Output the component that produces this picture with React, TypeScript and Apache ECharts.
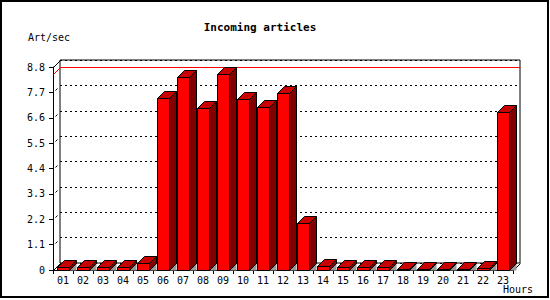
import React, { useEffect, useRef } from "react";
import * as echarts from "echarts";

const hours = ["01","02","03","04","05","06","07","08","09","10","11","12","13","14","15","16","17","18","19","20","21","22","23"];
const artPerSec = [0.12,0.14,0.13,0.13,0.29,7.46,8.37,7.02,8.5,7.41,7.05,7.67,2.05,0.17,0.13,0.13,0.13,0.06,0.06,0.06,0.06,0.07,6.87];
const yMin = 0;
const yMax = 8.8;
const yStep = 1.1;
const titleText = "Incoming articles";
const yName = "Art/sec";
const xName = "Hours";

const D = 7;
const BW = 12;
const MONO = "'DejaVu Sans Mono', 'Liberation Mono', monospace";

export default function App() {
  const ref = useRef<HTMLDivElement>(null);
  useEffect(() => {
    if (!ref.current) return;
    const chart = echarts.init(ref.current, null, { renderer: "svg" });
    const maxVal = Math.max(...artPerSec);
    const tickVals: number[] = [];
    for (let k = 1; k * yStep < yMax - 1e-9; k++) tickVals.push(+(k * yStep).toFixed(1));

    const option: any = {
      animation: false,
      backgroundColor: "#fff",
      grid: [
        { left: 53, top: 67, width: 460, height: 203, outerBoundsMode: "none", show: false },
        { left: 60, top: 60, width: 460, height: 203, outerBoundsMode: "none", show: true, backgroundColor: "#fff", borderColor: "#000", borderWidth: 1, z: -1 },
      ],
      xAxis: [
        {
          type: "category", gridIndex: 0, data: hours,
          axisLine: { lineStyle: { color: "#000", width: 1 } },
          axisTick: { show: true, length: 4, interval: 0, lineStyle: { color: "#000" } },
          axisLabel: { interval: 0, color: "#000", fontFamily: MONO, fontSize: 10, margin: 5 },
          splitLine: { show: false },
        },
        { type: "category", gridIndex: 1, data: hours, show: false },
      ],
      yAxis: [
        {
          type: "value", gridIndex: 0, min: yMin, max: yMax, interval: yStep,
          axisLine: { show: true, lineStyle: { color: "#000", width: 1 } },
          axisTick: { show: true, length: 4, lineStyle: { color: "#000" } },
          axisLabel: {
            color: "#000", fontFamily: MONO, fontSize: 10, margin: 8,
            formatter: (v: number) => (Math.abs(v) < 1e-9 ? "0" : v.toFixed(1)),
          },
          splitLine: { show: false },
        },
        {
          type: "value", gridIndex: 1, min: yMin, max: yMax, interval: yStep,
          axisLine: { show: false }, axisTick: { show: false }, axisLabel: { show: false },
          splitLine: { show: true, lineStyle: { color: "#000", width: 1, type: [2, 3] } },
        },
      ],
      graphic: [
        { type: "rect", shape: { x: 1, y: 1, width: 547, height: 296 }, style: { fill: "none", stroke: "#000", lineWidth: 2 }, z: 100 },
        { type: "text", x: 260, y: 27, style: { text: titleText, fontFamily: MONO, fontSize: 11, fontWeight: "bold", fill: "#000", align: "center", verticalAlign: "middle" } },
        { type: "text", x: 28, y: 37, style: { text: yName, fontFamily: MONO, fontSize: 10, fill: "#000", align: "left", verticalAlign: "middle" } },
        { type: "text", x: 533, y: 289, style: { text: xName, fontFamily: MONO, fontSize: 10, fill: "#000", align: "right", verticalAlign: "middle" } },
      ],
      series: [
        {
          type: "custom", xAxisIndex: 0, yAxisIndex: 0, z: 1, silent: true,
          data: [[0, maxVal]],
          encode: { x: 0, y: 1 },
          renderItem: (params: any, api: any) => {
            const cs = params.coordSys;
            const x = Math.round(cs.x) + 0.5;
            const y = Math.round(cs.y) + 0.5;
            const w = Math.round(cs.width);
            const h = Math.round(cs.height);
            const yv = Math.round(api.coord([0, api.value(1)])[1]) + 0.5;
            const children: any[] = [
              { type: "line", shape: { x1: x, y1: y, x2: x + D, y2: y - D }, style: { stroke: "#000", lineWidth: 1 } },
              { type: "line", shape: { x1: x, y1: y + h, x2: x + D, y2: y + h - D }, style: { stroke: "#000", lineWidth: 1 } },
              { type: "line", shape: { x1: x + w, y1: y + h, x2: x + w + D, y2: y + h - D }, style: { stroke: "#000", lineWidth: 1 } },
              { type: "polyline", shape: { points: [[x, yv], [x + D, yv - D], [x + D + w, yv - D]] }, style: { stroke: "#ff0000", lineWidth: 1, fill: "none" } },
            ];
            tickVals.forEach((t) => {
              const ty = Math.round(api.coord([0, t])[1]) + 0.5;
              children.push({ type: "line", shape: { x1: x + 2, y1: ty - 2, x2: x + 4, y2: ty - 4 }, style: { stroke: "#000", lineWidth: 1 } });
            });
            return { type: "group", children };
          },
        },
        {
          type: "custom", xAxisIndex: 0, yAxisIndex: 0, z: 3, silent: true,
          data: hours.map((_, i) => [i, artPerSec[i]]),
          encode: { x: 0, y: 1 },
          renderItem: (params: any, api: any) => {
            const i = api.value(0);
            const v = api.value(1);
            const base = api.coord([i, 0]);
            const top = api.coord([i, v]);
            const cx = Math.round(base[0]);
            const yb = Math.round(base[1]) + 0.5;
            const yt = Math.round(top[1]) + 0.5;
            const l = cx - BW / 2 + 0.5;
            const r = cx + BW / 2 + 0.5;
            return {
              type: "group",
              children: [
                { type: "polygon", shape: { points: [[r, yb], [r + D, yb], [r + D, yb - D]] }, style: { fill: "#999999", stroke: "none" } },
                { type: "polygon", shape: { points: [[r, yt], [r + D, yt - D], [r + D, yb - D], [r, yb]] }, style: { fill: "#800000", stroke: "#000", lineWidth: 1 } },
                { type: "polygon", shape: { points: [[l, yt], [r, yt], [r + D, yt - D], [l + D, yt - D]] }, style: { fill: "#c80000", stroke: "#000", lineWidth: 1 } },
                { type: "rect", shape: { x: l, y: yt, width: BW, height: yb - yt }, style: { fill: "#ff0000", stroke: "#000", lineWidth: 1 } },
              ],
            };
          },
        },
      ],
    };
    chart.setOption(option);
    return () => chart.dispose();
  }, []);
  return <div ref={ref} style={{ position: "absolute", left: 0, top: 0, width: 550, height: 300, background: "#fff" }} />;
}
